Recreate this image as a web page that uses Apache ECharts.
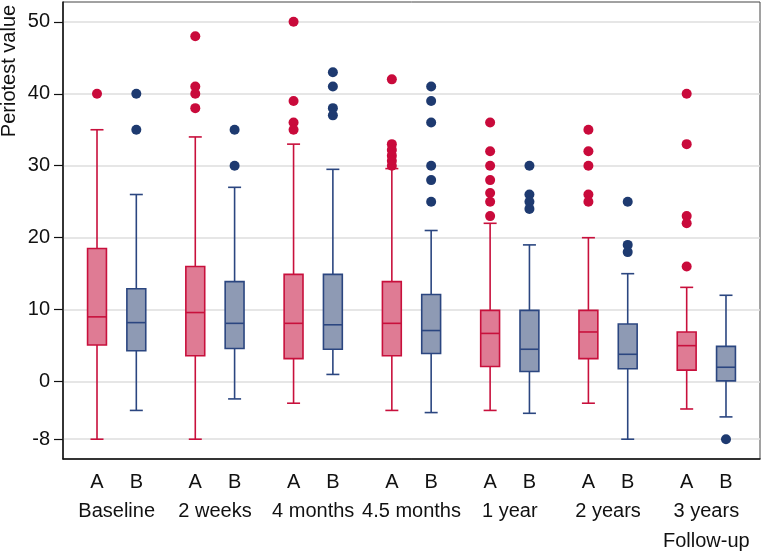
<!DOCTYPE html>
<html>
<head>
<meta charset="utf-8">
<script src="https://cdn.jsdelivr.net/npm/echarts@6/dist/echarts.min.js"></script>
<style>
  html, body { margin: 0; padding: 0; background: #fff; }
  #chart { width: 762px; height: 551px; }
</style>
</head>
<body>
<div id="chart"></div>
<script>
// Periotest boxplots, groups A (red) and B (blue) at seven follow-up times.
var groups = ['Baseline', '2 weeks', '4 months', '4.5 months', '1 year', '2 years', '3 years\nFollow-up'];
var subLabels = ['A', 'B'];
var yTicks = [-8, 0, 10, 20, 30, 40, 50];

// [min, Q1, median, Q3, max] per time point
var boxA = [
  [-8, 5.1, 9.0, 18.5, 35],
  [-8, 3.6, 9.6, 16.0, 34],
  [-3, 3.2, 8.1, 14.9, 33],
  [-4, 3.6, 8.1, 13.9, 29.6],
  [-4, 2.1, 6.7, 9.9, 22],
  [-3, 3.2, 6.9, 9.9, 20],
  [-3.8, 1.6, 5.0, 6.9, 13.1]
];
var boxB = [
  [-4, 4.3, 8.2, 12.9, 26],
  [-2.4, 4.6, 8.1, 13.9, 27],
  [1, 4.5, 7.9, 14.9, 29.5],
  [-4.3, 3.9, 7.1, 12.1, 21],
  [-4.4, 1.4, 4.5, 9.9, 19],
  [-8, 1.8, 3.8, 8.0, 15],
  [-4.9, 0.1, 2.0, 4.9, 12]
];
var outliersA = [
  [40],
  [48, 41, 40, 38],
  [50, 39, 36, 35],
  [42, 33, 32.2, 31.4, 30.7, 30],
  [36, 32, 30, 28, 26.2, 25, 23],
  [35, 32, 30, 26, 25],
  [40, 33, 23, 22, 16]
];
var outliersB = [
  [40, 35],
  [35, 30],
  [43, 41, 38, 37],
  [41, 39, 36, 30, 28, 25],
  [30, 26, 25, 24],
  [25, 19, 18],
  [-8]
];

var RED = '#c8103c', RED_FILL = '#df7b94', RED_DOT = '#c90a3b';
var BLUE = '#2b4680', BLUE_FILL = '#8e9ab4', BLUE_DOT = '#1e3a70';
var FONT = '"Liberation Sans", Arial, sans-serif';

// x layout: A at 2.5*i, B one unit to its right
function posOf(i, sub) { return 2.5 * i + sub; }

function boxRows(list, sub) {
  return list.map(function (b, i) { return [posOf(i, sub)].concat(b); });
}
function dotRows(list, sub) {
  var out = [];
  list.forEach(function (vals, i) {
    vals.forEach(function (v) { out.push([posOf(i, sub), v]); });
  });
  return out;
}

function boxRenderer(stroke, fill) {
  return function (params, api) {
    var x = api.value(0);
    var lo = api.coord([x, api.value(1)]);
    var q1 = api.coord([x, api.value(2)]);
    var md = api.coord([x, api.value(3)]);
    var q3 = api.coord([x, api.value(4)]);
    var hi = api.coord([x, api.value(5)]);
    var hw = api.size([0.48, 0])[0] / 2;
    var cw = 6.5;
    var ls = { stroke: stroke, lineWidth: 1.6 };
    return {
      type: 'group',
      children: [
        { type: 'line', shape: { x1: lo[0], y1: lo[1], x2: q1[0], y2: q1[1] }, style: ls },
        { type: 'line', shape: { x1: q3[0], y1: q3[1], x2: hi[0], y2: hi[1] }, style: ls },
        { type: 'line', shape: { x1: lo[0] - cw, y1: lo[1], x2: lo[0] + cw, y2: lo[1] }, style: ls },
        { type: 'line', shape: { x1: hi[0] - cw, y1: hi[1], x2: hi[0] + cw, y2: hi[1] }, style: ls },
        { type: 'rect', shape: { x: q3[0] - hw, y: q3[1], width: hw * 2, height: q1[1] - q3[1] },
          style: { fill: fill, stroke: stroke, lineWidth: 1.6 } },
        { type: 'line', shape: { x1: md[0] - hw, y1: md[1], x2: md[0] + hw, y2: md[1] }, style: ls }
      ]
    };
  };
}

var xMin = -0.865, xMax = 16.865;
var subPositions = [], groupCenters = [];
groups.forEach(function (g, i) {
  subPositions.push(posOf(i, 0), posOf(i, 1));
  groupCenters.push(posOf(i, 0.5));
});

var chart = echarts.init(document.getElementById('chart'));
chart.setOption({
  animation: false,
  backgroundColor: '#fff',
  textStyle: { fontFamily: FONT },
  grid: {
    left: 63, right: 2, top: 2, bottom: 92, containLabel: false, outerBoundsMode: 'none',
    show: true, borderColor: '#444', borderWidth: 1
  },
  xAxis: [{
    type: 'value', min: xMin, max: xMax,
    axisLine: { show: true, onZero: false, lineStyle: { color: '#111', width: 1.5 } },
    axisTick: { show: false },
    splitLine: { show: false },
    axisLabel: {
      customValues: subPositions,
      color: '#111', fontSize: 20, fontFamily: FONT, margin: 13,
      formatter: function (v) {
        var r = v - 2.5 * Math.floor(v / 2.5 + 1e-6);
        return r < 0.5 ? subLabels[0] : subLabels[1];
      }
    }
  }, {
    type: 'value', min: xMin, max: xMax, position: 'bottom',
    axisLine: { show: false, onZero: false }, axisTick: { show: false }, splitLine: { show: false },
    axisLabel: {
      customValues: groupCenters,
      color: '#111', fontSize: 20, fontFamily: FONT, margin: 37, lineHeight: 30,
      formatter: function (v) { return groups[Math.round((v - 0.5) / 2.5)]; }
    }
  }],
  yAxis: {
    type: 'value', min: -10.75, max: 52.75,
    axisLine: { show: true, onZero: false, lineStyle: { color: '#111', width: 1.5 } },
    axisTick: { show: true, customValues: yTicks, length: 9, lineStyle: { color: '#111', width: 1.2 } },
    axisLabel: { customValues: yTicks, color: '#111', fontSize: 20, fontFamily: FONT, margin: 13 },
    splitLine: { show: true, lineStyle: { color: '#dedede', width: 1.5 } }
  },
  graphic: [{
    type: 'text', x: 9, y: 71, rotation: Math.PI / 2,
    style: { text: 'Periotest value', font: '20px ' + FONT, fill: '#111', align: 'center', verticalAlign: 'middle' }
  }],
  series: [
    { type: 'custom', name: 'A', renderItem: boxRenderer(RED, RED_FILL), data: boxRows(boxA, 0),
      encode: { x: 0, y: [1, 2, 3, 4, 5] }, z: 2 },
    { type: 'custom', name: 'B', renderItem: boxRenderer(BLUE, BLUE_FILL), data: boxRows(boxB, 1),
      encode: { x: 0, y: [1, 2, 3, 4, 5] }, z: 2 },
    { type: 'scatter', name: 'A outliers', data: dotRows(outliersA, 0), symbolSize: 10,
      itemStyle: { color: RED_DOT, opacity: 1 }, z: 3 },
    { type: 'scatter', name: 'B outliers', data: dotRows(outliersB, 1), symbolSize: 10,
      itemStyle: { color: BLUE_DOT, opacity: 1 }, z: 3 }
  ]
});
</script>
</body>
</html>
